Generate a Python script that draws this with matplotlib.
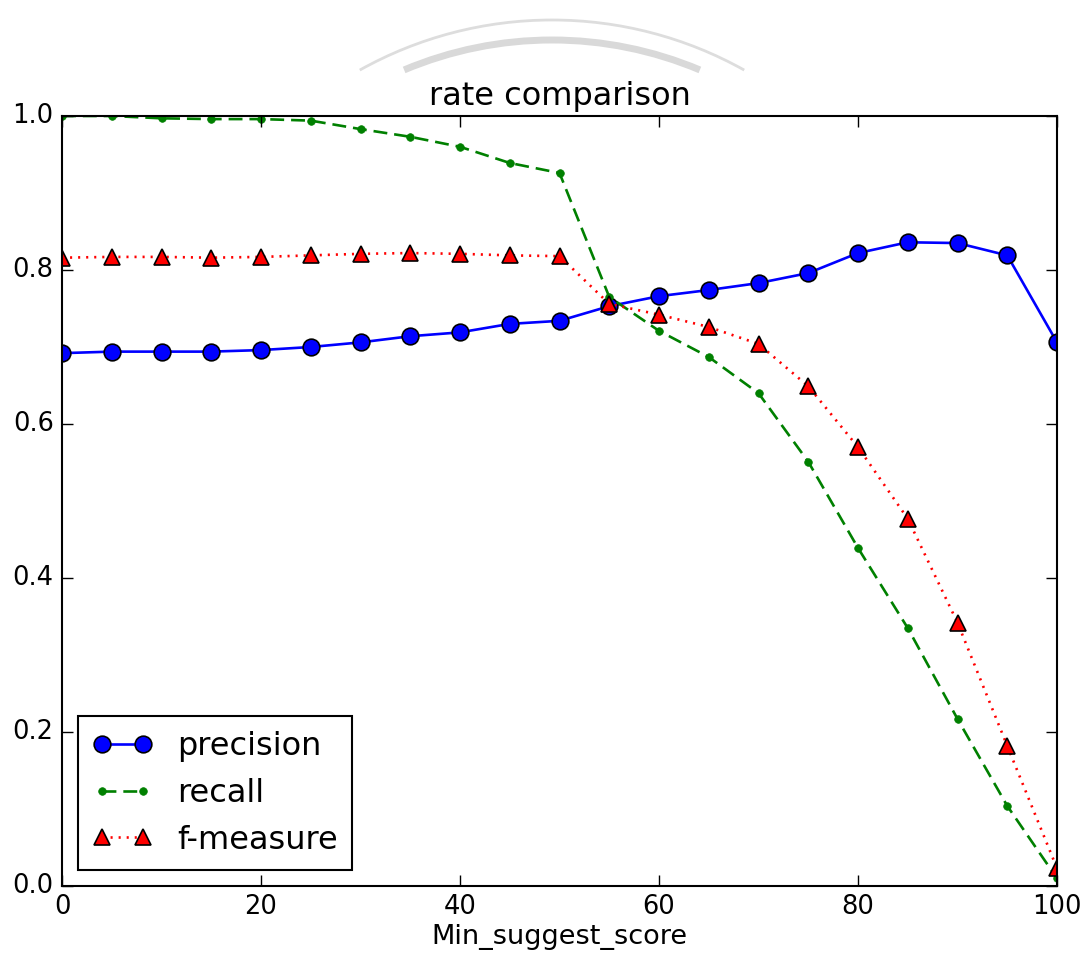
import matplotlib
matplotlib.use("Agg")
import matplotlib.pyplot as plt
from matplotlib.patches import Arc
from matplotlib.transforms import IdentityTransform

plt.style.use("classic")
plt.rcParams["font.family"] = ["DejaVu Sans"]
plt.rcParams["font.size"] = 19

scores = [0, 5, 10, 15, 20, 25, 30, 35, 40, 45, 50, 55, 60, 65, 70, 75, 80, 85, 90, 95, 100]
precision = [0.692, 0.694, 0.694, 0.694, 0.696, 0.700, 0.706, 0.714, 0.719, 0.730, 0.734,
             0.753, 0.766, 0.774, 0.783, 0.796, 0.822, 0.836, 0.835, 0.819, 0.706]
recall = [1.0, 1.0, 0.997, 0.996, 0.996, 0.994, 0.983, 0.973, 0.960, 0.939, 0.926,
          0.765, 0.721, 0.687, 0.640, 0.551, 0.439, 0.335, 0.217, 0.104, 0.010]
fmeasure = [0.816, 0.817, 0.817, 0.816, 0.817, 0.819, 0.821, 0.822, 0.821, 0.819, 0.818,
            0.756, 0.742, 0.726, 0.704, 0.649, 0.570, 0.477, 0.342, 0.182, 0.023]

W, H = 1084, 958
fig = plt.figure(figsize=(W / 100, H / 100), dpi=100, facecolor="white")
ax = fig.add_axes([62 / W, 1 - 886 / H, (1057 - 62) / W, (886 - 116) / H])

ax.plot(scores, precision, "b-o", lw=1.9, ms=12, mew=1.2, label="precision")
ax.plot(scores, recall, "g--", marker="o", ms=5.5, mec="g", lw=1.9, dashes=(10, 5),
        label="recall")
ax.plot(scores, fmeasure, "r:", marker="^", ms=11, mew=1.2, lw=1.9, dashes=(1.5, 4.3),
        label="f-measure")

ax.set_xlim(0, 100)
ax.set_ylim(0, 1.0)
ax.set_title("rate comparison", fontsize=23, pad=8)
ax.set_xlabel("Min_suggest_score", fontsize=19.5, labelpad=3)
ax.tick_params(labelsize=18.5, length=8, width=1, pad=6)
for s in ax.spines.values():
    s.set_linewidth(1.5)

leg = ax.legend(loc="lower left", fontsize=23, numpoints=2, handlelength=1.9,
                borderaxespad=0.5, handletextpad=0.75, labelspacing=0.5, borderpad=0.45,
                fancybox=False)
leg.get_frame().set_linewidth(1.5)

# decorative grey arcs at the top of the image
cx = 552
for r, ytop, lw, col, half in [(394, 20, 2, "#dddddd", 29.2), (380, 40, 5, "#d9d9d9", 22.9)]:
    yc = ytop + r
    arc = Arc((cx, H - yc), 2 * r, 2 * r, theta1=90 - half, theta2=90 + half,
              transform=IdentityTransform(), color=col, lw=lw)
    fig.add_artist(arc)

fig.savefig("out.png", dpi=100, facecolor="white")
